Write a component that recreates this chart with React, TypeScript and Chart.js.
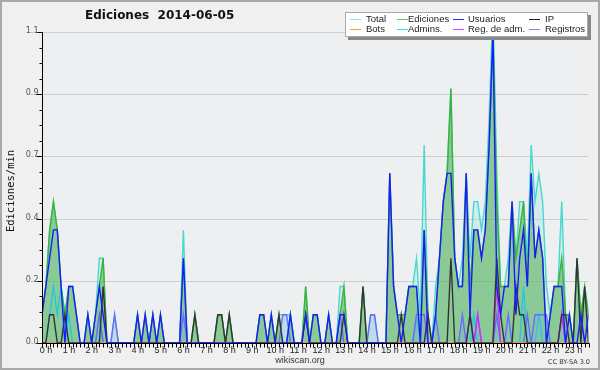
import React, { useEffect, useRef } from 'react';
import { Chart, registerables } from 'chart.js';

Chart.register(...registerables);

// 10-minute bins, 144 per day (values in edits per minute)
const total = [
  0.1,0.2,0.4,0.5,0.4,0.2,0.1,0.2,0.2,0.1,0,0,
  0.1,0,0.1,0.3,0.3,0,0,0.1,0,0,0,0,
  0,0.1,0,0.1,0,0.1,0,0.1,0,0,0,0,
  0,0.4,0,0,0.1,0,0,0,0,0,0.1,0.1,
  0,0.1,0,0,0,0,0,0,0,0.1,0.1,0,
  0.1,0,0.1,0.1,0.1,0.1,0,0,0,0.2,0,0.1,
  0.1,0,0,0.1,0,0,0.2,0.2,0,0,0,0,
  0.2,0,0.1,0.1,0,0,0,0.6,0.2,0.1,0.1,0.1,
  0.2,0.2,0.3,0.1,0.7,0.1,0,0.2,0.3,0.5,0.6,0.9,
  0.3,0.2,0.3,0.6,0.3,0.5,0.5,0.4,0.5,0.8,1.2,0.6,
  0.2,0.2,0.3,0.5,0.3,0.5,0.5,0.3,0.7,0.5,0.6,0.5,
  0.2,0.1,0.2,0.2,0.5,0.1,0.1,0,0.3,0.1,0.2,0.1,
];
const ediciones = [
  0.1,0.2,0.4,0.5,0.4,0.2,0.1,0.2,0.2,0.1,0,0,
  0.1,0,0.1,0.2,0.3,0,0,0,0,0,0,0,
  0,0.1,0,0.1,0,0.1,0,0.1,0,0,0,0,
  0,0.3,0,0,0.1,0,0,0,0,0,0.1,0.1,
  0,0.1,0,0,0,0,0,0,0,0.1,0.1,0,
  0.1,0,0.1,0,0,0.1,0,0,0,0.2,0,0.1,
  0.1,0,0,0.1,0,0,0.1,0.2,0,0,0,0,
  0.2,0,0,0,0,0,0,0.6,0.2,0.1,0.1,0.1,
  0.2,0.2,0.2,0,0.4,0.1,0,0.1,0.3,0.5,0.6,0.9,
  0.3,0.2,0.2,0.6,0.2,0.4,0.4,0.3,0.4,0.7,1.1,0.5,
  0.2,0.2,0.2,0.5,0.3,0.4,0.5,0.2,0.6,0.3,0.4,0.3,
  0,0.1,0.2,0.2,0.3,0.1,0.1,0,0.3,0.1,0.2,0.1,
];
const usuarios = [
  0.1,0.2,0.3,0.4,0.4,0.2,0,0.2,0.2,0.1,0,0,
  0.1,0,0.1,0.2,0.1,0,0,0,0,0,0,0,
  0,0.1,0,0.1,0,0.1,0,0.1,0,0,0,0,
  0,0.3,0,0,0,0,0,0,0,0,0,0,
  0,0,0,0,0,0,0,0,0,0.1,0.1,0,
  0.1,0,0,0,0,0.1,0,0,0,0.1,0,0.1,
  0.1,0,0,0.1,0,0,0.1,0.1,0,0,0,0,
  0,0,0,0,0,0,0,0.6,0.2,0.1,0,0.1,
  0.2,0.2,0.2,0,0.4,0,0,0.1,0.3,0.5,0.6,0.6,
  0.3,0.2,0.2,0.6,0.1,0.4,0.4,0.3,0.4,0.7,1.1,0.2,
  0.1,0.2,0.2,0.5,0.1,0.3,0.4,0.2,0.6,0.3,0.4,0.3,
  0,0.1,0.2,0.2,0.2,0,0.1,0,0,0.1,0,0.1,
];
const ip = [
  0,0,0.1,0.1,0,0,0.1,0,0,0,0,0,
  0,0,0,0,0.2,0,0,0,0,0,0,0,
  0,0,0,0,0,0,0,0,0,0,0,0,
  0,0,0,0,0.1,0,0,0,0,0,0.1,0.1,
  0,0.1,0,0,0,0,0,0,0,0,0,0,
  0,0,0.1,0,0,0,0,0,0,0.1,0,0,
  0,0,0,0,0,0,0,0.1,0,0,0,0,
  0.2,0,0,0,0,0,0,0,0,0,0.1,0,
  0,0,0,0,0,0.1,0,0,0,0,0,0.3,
  0,0,0,0,0.1,0,0,0,0,0,0,0.3,
  0.1,0,0,0,0.2,0.1,0.1,0,0,0,0,0,
  0,0,0,0,0.1,0.1,0,0,0.3,0,0.2,0,
];
const bots = [
  0,0,0,0,0,0,0,0,0,0,0,0,
  0,0,0,0,0,0,0,0,0,0,0,0,
  0,0,0,0,0,0,0,0,0,0,0,0,
  0,0,0,0,0,0,0,0,0,0,0,0,
  0,0,0,0,0,0,0,0,0,0,0,0,
  0,0,0,0,0,0,0,0,0,0,0,0,
  0,0,0,0,0,0,0,0,0,0,0,0,
  0,0,0,0,0,0,0,0,0,0,0,0,
  0,0,0,0,0,0,0,0,0,0,0,0,
  0,0,0,0,0,0,0,0,0,0,0,0,
  0,0,0,0,0,0,0,0,0,0,0,0,
  0,0,0,0,0,0,0,0,0,0,0,0,
];
const admins = [
  0,0,0.1,0.2,0.1,0.2,0,0.1,0,0,0,0,
  0,0,0,0.1,0,0,0,0,0,0,0,0,
  0,0,0,0,0,0,0,0,0,0,0,0,
  0,0,0,0,0,0,0,0,0,0,0,0,
  0,0,0,0,0,0,0,0,0,0,0,0,
  0,0,0,0,0,0.1,0,0,0,0,0,0,
  0,0,0,0,0,0,0,0,0,0,0,0,
  0,0,0,0,0,0,0,0,0,0,0,0,
  0,0,0.1,0,0,0,0,0,0,0,0,0,
  0,0,0,0,0,0.1,0,0,0,0,0,0.1,
  0,0,0,0,0,0,0.2,0,0,0,0.1,0,
  0,0,0,0,0.1,0,0,0,0,0,0,0,
];
const regAdm = [
  0,0,0,0,0,0,0,0,0,0,0,0,
  0,0,0,0,0,0,0,0,0,0,0,0,
  0,0,0,0,0,0,0,0,0,0,0,0,
  0,0,0,0,0,0,0,0,0,0,0,0,
  0,0,0,0,0,0,0,0,0,0,0,0,
  0,0,0,0,0,0,0,0,0,0,0,0,
  0,0,0,0,0,0,0,0,0,0,0,0,
  0,0,0,0,0,0,0,0,0,0,0,0,
  0,0,0,0,0,0,0,0,0,0,0,0,
  0,0,0,0,0,0,0.1,0,0,0,0,0.2,
  0,0,0,0,0,0,0,0,0,0,0,0,
  0,0,0,0,0.1,0,0,0,0,0,0,0,
];
const registros = [
  0,0,0,0,0,0,0,0,0,0,0,0,
  0,0,0,0.1,0,0,0,0.1,0,0,0,0,
  0,0,0,0,0,0,0,0,0,0,0,0,
  0,0.1,0,0,0,0,0,0,0,0,0,0,
  0,0,0,0,0,0,0,0,0,0,0,0,
  0,0,0,0.1,0.1,0,0,0,0,0,0,0,
  0,0,0,0,0,0,0.1,0,0,0,0,0,
  0,0,0.1,0.1,0,0,0,0,0,0,0,0,
  0,0,0.1,0.1,0.1,0,0,0.1,0,0,0,0,
  0,0,0.1,0,0.1,0,0.1,0,0,0,0,0.1,
  0,0,0.1,0,0,0,0,0.1,0,0.1,0.1,0.1,
  0.1,0,0,0,0.1,0,0,0,0,0,0,0,
];

const hourLabels = ['0 h','1 h','2 h','3 h','4 h','5 h','6 h','7 h','8 h','9 h','10 h','11 h',
  '12 h','13 h','14 h','15 h','16 h','17 h','18 h','19 h','20 h','21 h','22 h','23 h'];
const yTickValues = [0, 0.22, 0.44, 0.66, 0.88, 1.1];
const yTickLabels = ['0.0', '0.2', '0.4', '0.7', '0.9', '1.1'];

const legendNames = ['Total', 'Ediciones', 'Usuarios', 'IP', 'Bots', 'Admins.', 'Reg. de adm.', 'Registros'];
const legendColors = ['#8fe6e6', '#66c866', '#2a2aff', '#222222', '#ffa020', '#30d8e8', '#e040ff', '#8080ff'];

const TITLE = 'Ediciones  2014-06-05';
const Y_TITLE = 'Ediciones/min';
const FOOT = 'wikiscan.org';
const LICENSE = 'CC BY-SA 3.0';

const W = 600, H = 370;

function pts(arr: number[]) {
  return arr.map((v, i) => ({ x: i / 6, y: v }));
}

const decor = {
  id: 'decor',
  beforeDraw(chart: any) {
    const { ctx, chartArea: a, scales } = chart;
    ctx.save();
    ctx.fillStyle = '#f0f0f0';
    ctx.fillRect(0, 0, W, H);
    ctx.strokeStyle = '#a9a9a9';
    ctx.lineWidth = 2;
    ctx.strokeRect(1, 1, W - 2, H - 2);
    ctx.fillStyle = '#eeeff1';
    ctx.fillRect(a.left, a.top, a.right - a.left, a.bottom - a.top);
    ctx.strokeStyle = '#cdcdcd';
    ctx.lineWidth = 1;
    yTickValues.forEach((v) => {
      if (v === 0) return;
      const y = Math.round(scales.y.getPixelForValue(v)) + 0.5;
      ctx.beginPath();
      ctx.moveTo(a.left, y);
      ctx.lineTo(a.right, y);
      ctx.stroke();
    });
    ctx.restore();
  },
  afterDatasetsDraw(chart: any) {
    const { ctx, chartArea: a, scales } = chart;
    const xs = scales.x, ys = scales.y;
    ctx.save();
    // axes
    ctx.strokeStyle = '#000';
    ctx.lineWidth = 1;
    const ax = Math.round(a.left) + 0.5;
    const ay = Math.round(a.bottom) + 0.5;
    ctx.beginPath();
    ctx.moveTo(ax, a.top);
    ctx.lineTo(ax, ay);
    ctx.lineTo(a.right + 1, ay);
    ctx.stroke();
    // y ticks
    ctx.beginPath();
    for (let k = 0; k <= 20; k++) {
      const v = k * 0.055;
      const y = Math.round(ys.getPixelForValue(v)) + 0.5;
      const major = k % 4 === 0;
      ctx.moveTo(ax - (major ? 6 : 3), y);
      ctx.lineTo(ax, y);
    }
    ctx.stroke();
    // x ticks every 10 minutes
    ctx.beginPath();
    for (let i = 0; i < 144; i++) {
      const x = Math.round(xs.getPixelForValue(i / 6)) + 0.5;
      ctx.moveTo(x, ay);
      ctx.lineTo(x, ay + 4);
    }
    ctx.stroke();
    // y labels
    ctx.fillStyle = '#555';
    ctx.font = '8px "DejaVu Sans"';
    ctx.textAlign = 'right';
    ctx.textBaseline = 'middle';
    yTickValues.forEach((v, k) => {
      ctx.fillText(yTickLabels[k], ax - 4, ys.getPixelForValue(v) - 1);
    });
    // x labels
    ctx.fillStyle = '#222';
    ctx.font = '9px "Liberation Sans"';
    ctx.textAlign = 'center';
    ctx.textBaseline = 'middle';
    hourLabels.forEach((lab, h) => {
      ctx.fillText(lab, xs.getPixelForValue(h) + 4, 351);
    });
    // title
    ctx.fillStyle = '#111';
    ctx.font = 'bold 12px "DejaVu Sans"';
    ctx.textAlign = 'left';
    ctx.fillText(TITLE, 85, 16);
    // y title
    ctx.save();
    ctx.translate(11, 191);
    ctx.rotate(-Math.PI / 2);
    ctx.font = '10.5px "DejaVu Sans Mono"';
    ctx.textAlign = 'center';
    ctx.fillStyle = '#111';
    ctx.fillText(Y_TITLE, 0, 0);
    ctx.restore();
    // footer
    ctx.font = '9px "Liberation Sans"';
    ctx.textAlign = 'center';
    ctx.fillStyle = '#333';
    ctx.fillText(FOOT, 300, 361);
    ctx.font = '6.5px "DejaVu Sans"';
    ctx.textAlign = 'right';
    ctx.fillText(LICENSE, 590, 362);
    // legend
    const lx = 345, ly = 12, lw = 243, lh = 25;
    ctx.fillStyle = '#888';
    ctx.fillRect(lx + 3, ly + 3, lw, lh);
    ctx.fillStyle = '#ffffff';
    ctx.fillRect(lx, ly, lw, lh);
    ctx.strokeStyle = '#aaa';
    ctx.lineWidth = 1;
    ctx.strokeRect(lx + 0.5, ly + 0.5, lw - 1, lh - 1);
    const lineX = [350, 397, 453, 529];
    const textX = [366, 408, 468, 545];
    const rowY = [19, 29];
    ctx.font = '9.5px "Liberation Sans"';
    ctx.textAlign = 'left';
    ctx.textBaseline = 'middle';
    legendNames.forEach((name, k) => {
      const c = k % 4;
      const cy = rowY[Math.floor(k / 4)];
      ctx.strokeStyle = legendColors[k];
      ctx.lineWidth = 1;
      ctx.beginPath();
      ctx.moveTo(lineX[c], cy + 0.5);
      ctx.lineTo(lineX[c] + 11, cy + 0.5);
      ctx.stroke();
      ctx.fillStyle = '#222';
      ctx.fillText(name, textX[c], cy + 0.5);
    });
    ctx.restore();
  },
};

export default function App() {
  const ref = useRef<HTMLCanvasElement | null>(null);
  useEffect(() => {
    document.body.style.margin = '0';
    const canvas = ref.current!;
    const line = (label: string, data: number[], color: string, extra: any = {}) => ({
      label,
      data: pts(data),
      borderColor: color,
      borderWidth: 1.4,
      pointRadius: 0,
      tension: 0,
      fill: false,
      ...extra,
    });
    const chart = new Chart(canvas, {
      type: 'line',
      data: {
        datasets: [
          line('Usuarios', usuarios, '#1a1aff'),
          line('IP', ip, '#333333'),
          line('Bots', bots, '#ffa020'),
          line('Reg. de adm.', regAdm, '#d030f0'),
          line('Registros', registros, '#6a6aff', { fill: 'origin', backgroundColor: 'rgba(120,170,230,0.25)' }),
          line('Admins.', admins, '#20c8e0'),
          line('Ediciones', ediciones, '#3cb43c', { fill: 'origin', backgroundColor: 'rgba(60,165,60,0.48)' }),
          line('Total', total, '#48d8d0', { fill: 'origin', backgroundColor: 'rgba(150,230,215,0.3)' }),
        ],
      },
      options: {
        responsive: false,
        animation: false,
        events: [],
        layout: { padding: { left: 42, top: 32, right: 11.5, bottom: 27 } },
        plugins: { legend: { display: false }, tooltip: { enabled: false }, title: { display: false } },
        scales: {
          x: { type: 'linear', min: 0, max: 143 / 6, display: false },
          y: { type: 'linear', min: 0, max: 1.1, display: false },
        },
      },
      plugins: [decor],
    });
    return () => chart.destroy();
  }, []);
  return <canvas ref={ref} width={W} height={H} style={{ display: 'block', width: W, height: H }} />;
}
